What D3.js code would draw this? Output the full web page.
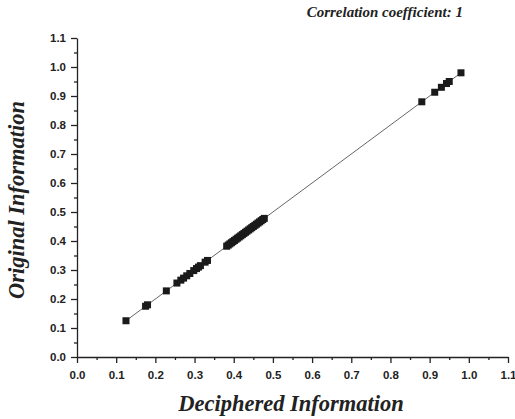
<!DOCTYPE html>
<html><head><meta charset="utf-8">
<script src="https://cdn.jsdelivr.net/npm/d3@7"></script>
<style>body{margin:0;background:#fff}</style>
</head><body>
<svg id="c" width="515" height="419"></svg>
<script>
const deciphered = [0.125,0.175,0.18,0.228,0.255,0.265,0.272,0.28,0.288,0.298,0.305,0.31,0.315,0.327,0.333,
  0.382,0.386,0.39,0.394,0.398,0.402,0.406,0.41,0.414,0.418,0.422,0.426,0.43,0.434,0.438,0.442,0.446,0.45,0.454,0.458,0.462,0.466,0.47,0.474,0.478,
  0.88,0.913,0.93,0.943,0.95,0.98];
const original = deciphered.slice();
const tickVals = [0,0.1,0.2,0.3,0.4,0.5,0.6,0.7,0.8,0.9,1.0,1.1];
const minorVals = [0.05,0.15,0.25,0.35,0.45,0.55,0.65,0.75,0.85,0.95,1.05];
const titleText = "Correlation coefficient: 1";
const xLabel = "Deciphered Information";
const yLabel = "Original Information";

const svg = d3.select("#c");
const x = d3.scaleLinear().domain([0,1.1]).range([77,508]);
const y = d3.scaleLinear().domain([0,1.1]).range([357,38]);

const fmt = d3.format(".1f");
const xAxis = svg.append("g").attr("transform","translate(0,357)")
  .call(d3.axisBottom(x).tickValues(tickVals).tickFormat(fmt).tickSize(6).tickSizeOuter(0));
svg.append("g").attr("transform","translate(0,357)")
  .call(d3.axisBottom(x).tickValues(minorVals).tickFormat("").tickSize(3).tickSizeOuter(0))
  .select(".domain").remove();
const yAxis = svg.append("g").attr("transform","translate(77,0)")
  .call(d3.axisLeft(y).tickValues(tickVals).tickFormat(fmt).tickSize(6).tickSizeOuter(0));
svg.append("g").attr("transform","translate(77,0)")
  .call(d3.axisLeft(y).tickValues(minorVals).tickFormat("").tickSize(3).tickSizeOuter(0))
  .select(".domain").remove();
svg.selectAll(".domain, .tick line").attr("stroke","#222").attr("stroke-width",1.3);
svg.selectAll(".tick text").attr("font-family","Liberation Sans, Arial, sans-serif")
  .attr("font-weight","bold").attr("font-size","11.5px").attr("fill","#222");
xAxis.selectAll(".tick text").attr("dy","1.1em");
yAxis.selectAll(".tick text").attr("dx","-2");

const pts = deciphered.map((d,i)=>[d,original[i]]);
svg.append("path").datum(pts)
  .attr("d", d3.line().x(d=>x(d[0])).y(d=>y(d[1])))
  .attr("fill","none").attr("stroke","#555").attr("stroke-width",0.9);
svg.selectAll("rect.pt").data(pts).enter().append("rect")
  .attr("class","pt")
  .attr("x",d=>x(d[0])-3.5).attr("y",d=>y(d[1])-3.5)
  .attr("width",7).attr("height",7).attr("fill","#1a1a1a");

const serif = "Liberation Serif, Times New Roman, serif";
svg.append("text").attr("x",463).attr("y",17).attr("text-anchor","end")
  .attr("font-family",serif).attr("font-style","italic").attr("font-weight","bold")
  .attr("font-size","15px").attr("fill","#222").text(titleText);
svg.append("text").attr("x",291).attr("y",411).attr("text-anchor","middle")
  .attr("font-family",serif).attr("font-style","italic").attr("font-weight","bold")
  .attr("font-size","22.5px").attr("fill","#222").text(xLabel);
svg.append("text").attr("transform","translate(24,200) rotate(-90)").attr("text-anchor","middle")
  .attr("font-family",serif).attr("font-style","italic").attr("font-weight","bold")
  .attr("font-size","22.5px").attr("fill","#222").text(yLabel);
</script>
</body></html>
